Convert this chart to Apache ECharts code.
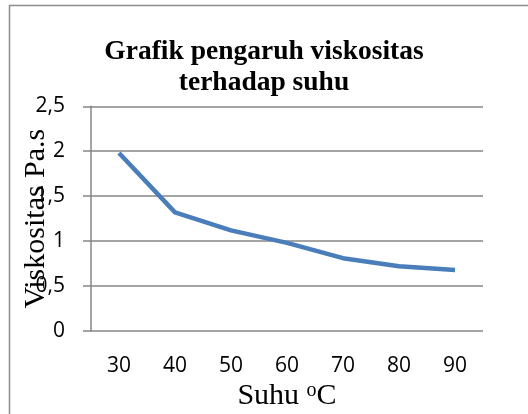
<!DOCTYPE html>
<html><head><meta charset="utf-8">
<script src="https://cdn.jsdelivr.net/npm/echarts@6/dist/echarts.min.js"></script>
<style>html,body{margin:0;padding:0;background:#fff}#c{width:528px;height:414px}</style>
</head><body><div id="c"></div>
<script>
const titleText = 'Grafik pengaruh viskositas\nterhadap suhu';
const categories = ['30','40','50','60','70','80','90'];
const viscosity = [1.98, 1.32, 1.12, 0.98, 0.81, 0.72, 0.68];
const yTicks = [0, 0.5, 1, 1.5, 2, 2.5];
const yName = 'Viskositas Pa.s';

const chart = echarts.init(document.getElementById('c'), null, {renderer:'canvas'});
chart.setOption({
  animation:false,
  graphic:[{type:'rect', shape:{x:9.5,y:5.5,width:700,height:700}, style:{fill:'none', stroke:'#8c8c8c', lineWidth:1.5}, silent:true}],
  title:{text:titleText, left:'center', top:31, textStyle:{fontFamily:'Liberation Serif', fontWeight:'bold', fontSize:27.5, color:'#000', lineHeight:31}},
  grid:{left:91, right:45, top:106.3, bottom:83, containLabel:false, outerBoundsMode:'none'},
  xAxis:{type:'category', data:categories, boundaryGap:true,
    name:'{a|Suhu }{s|o}{a|C}', nameLocation:'middle', nameGap:50, nameMoveOverlap:false,
    nameTextStyle:{rich:{a:{fontFamily:'Liberation Serif', fontSize:30, color:'#000', verticalAlign:'bottom', lineHeight:30},
      s:{fontFamily:'Liberation Serif', fontSize:20, color:'#000', verticalAlign:'top', padding:[0,0,12,0], lineHeight:30}}},
    axisLine:{show:false}, axisTick:{show:false},
    axisLabel:{fontFamily:'Open Sans', fontSize:21, color:'#000', margin:25}},
  yAxis:{type:'value', min:0, max:2.5, interval:0.5,
    name:yName, nameLocation:'middle', nameGap:40, nameRotate:90, nameMoveOverlap:false,
    nameTextStyle:{fontFamily:'Liberation Serif', fontSize:30, color:'#000'},
    axisLine:{show:true, lineStyle:{color:'#868686', width:1.5}},
    axisTick:{show:true, inside:false, length:8, lineStyle:{color:'#868686', width:1.5}},
    splitLine:{show:true, lineStyle:{color:'#868686', width:1.5}},
    axisLabel:{fontFamily:'Open Sans', fontSize:21, color:'#000', margin:26,
      formatter:v=>String(v).replace('.',',')}},
  series:[{type:'line', data:viscosity, symbol:'none', lineStyle:{color:'#4a7ebb', width:4.5}, z:5}]
});
</script></body></html>
